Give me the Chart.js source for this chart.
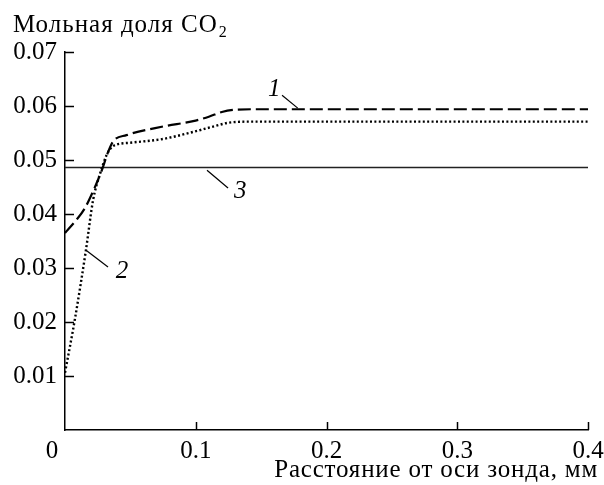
<!DOCTYPE html>
<html>
<head>
<meta charset="utf-8">
<script src="https://cdn.jsdelivr.net/npm/chart.js@4.4.1/dist/chart.umd.min.js"></script>
<style>
  html, body { margin: 0; padding: 0; background: #fff; }
  #wrap { width: 604px; height: 485px; }
</style>
</head>
<body>
<div id="wrap"><canvas id="chart" width="604" height="485"></canvas></div>
<script>
// Curve 1 (dashed)
const x1 = [0, 0.008, 0.015, 0.022, 0.028, 0.033, 0.037, 0.047, 0.075, 0.098, 0.11, 0.12, 0.13, 0.15, 0.25, 0.4];
const y1 = [0.0365, 0.0387, 0.041, 0.0445, 0.048, 0.0515, 0.0535, 0.0546, 0.0562, 0.0572, 0.058, 0.0589, 0.0593, 0.0594, 0.0594, 0.0594];

// Curve 2 (dotted)
const x2 = [0, 0.0077, 0.016, 0.0215, 0.027, 0.032, 0.037, 0.05, 0.075, 0.098, 0.115, 0.125, 0.14, 0.2, 0.4];
const y2 = [0.0106, 0.0207, 0.0333, 0.0426, 0.0476, 0.051, 0.0526, 0.0532, 0.0539, 0.0552, 0.0563, 0.0569, 0.0571, 0.0571, 0.0571];

// Curve 3 (solid, constant)
const x3 = [0, 0.4];
const y3 = [0.0486, 0.0486];

// Axis ticks
const xTicks = [0, 0.1, 0.2, 0.3, 0.4];
const yTicks = [0.01, 0.02, 0.03, 0.04, 0.05, 0.06, 0.07];

// Curve labels: text position and leader line ends, in data units
const curveLabels = [
    { text: '1', x: 0.160, y: 0.0630, from: [0.166, 0.0620], to: [0.178, 0.0596] },
    { text: '2', x: 0.0436, y: 0.0293, from: [0.0161, 0.0333], to: [0.0329, 0.0302] },
    { text: '3', x: 0.134, y: 0.0441, from: [0.1086, 0.0481], to: [0.1247, 0.0448] }
];

const yTitle = 'Мольная доля CO';
const yTitleSub = '2';
const xTitle = 'Расстояние от оси зонда, мм';

const SERIF = '"Liberation Serif", "Times New Roman", serif';

const toPoints = (xs, ys) => xs.map((x, i) => ({ x: x, y: ys[i] }));

// Draws inward tick marks, titles and curve labels
const decorPlugin = {
    id: 'decor',
    afterDraw(chart) {
        const ctx = chart.ctx;
        const xs = chart.scales.x;
        const ys = chart.scales.y;
        ctx.save();

        // inward ticks
        ctx.strokeStyle = '#000';
        ctx.lineWidth = 1.5;
        yTicks.forEach(v => {
            const py = Math.round(ys.getPixelForValue(v)) + 0.5;
            ctx.beginPath();
            ctx.moveTo(xs.left, py);
            ctx.lineTo(xs.left + 9, py);
            ctx.stroke();
        });
        xTicks.slice(1).forEach(v => {
            const px = Math.round(xs.getPixelForValue(v)) + 0.5;
            ctx.beginPath();
            ctx.moveTo(px, ys.bottom);
            ctx.lineTo(px, ys.bottom - 8);
            ctx.stroke();
        });

        // x label "0" sits left of the axis
        ctx.fillStyle = '#000';
        ctx.font = '25px ' + SERIF;
        ctx.textAlign = 'center';
        ctx.textBaseline = 'middle';
        ctx.fillText('0', xs.getPixelForValue(0) - 13, 451);

        // y title with subscript
        ctx.textAlign = 'left';
        ctx.textBaseline = 'alphabetic';
        ctx.letterSpacing = '1px';
        ctx.fillText(yTitle, 13, 32);
        const w = ctx.measureText(yTitle).width;
        ctx.letterSpacing = '0px';
        ctx.font = '16px ' + SERIF;
        ctx.fillText(yTitleSub, 13 + w + 1, 37);

        // x title, right aligned
        ctx.font = '25px ' + SERIF;
        ctx.textAlign = 'right';
        ctx.letterSpacing = '0.8px';
        ctx.fillText(xTitle, 598, 477);
        ctx.letterSpacing = '0px';

        // curve labels with leader lines
        ctx.lineWidth = 1.2;
        ctx.font = 'italic 25px ' + SERIF;
        ctx.textAlign = 'center';
        ctx.textBaseline = 'middle';
        curveLabels.forEach(l => {
            ctx.beginPath();
            ctx.moveTo(xs.getPixelForValue(l.from[0]), ys.getPixelForValue(l.from[1]));
            ctx.lineTo(xs.getPixelForValue(l.to[0]), ys.getPixelForValue(l.to[1]));
            ctx.stroke();
            ctx.fillText(l.text, xs.getPixelForValue(l.x), ys.getPixelForValue(l.y));
        });

        ctx.restore();
    }
};

const ctx = document.getElementById('chart').getContext('2d');
new Chart(ctx, {
    type: 'line',
    data: {
        datasets: [
            {
                label: '1',
                data: toPoints(x1, y1),
                borderColor: '#000',
                borderWidth: 2.2,
                borderDash: [13, 5],
                cubicInterpolationMode: 'monotone',
                pointRadius: 0,
                fill: false
            },
            {
                label: '2',
                data: toPoints(x2, y2),
                borderColor: '#000',
                borderWidth: 2.4,
                borderDash: [2, 2.4],
                cubicInterpolationMode: 'monotone',
                pointRadius: 0,
                fill: false
            },
            {
                label: '3',
                data: toPoints(x3, y3),
                borderColor: '#222',
                borderWidth: 1.5,
                pointRadius: 0,
                fill: false
            }
        ]
    },
    options: {
        responsive: false,
        animation: false,
        layout: {
            padding: { top: 52, right: 16, left: 0, bottom: 0 }
        },
        plugins: {
            legend: { display: false },
            tooltip: { enabled: false }
        },
        scales: {
            x: {
                type: 'linear',
                min: 0,
                max: 0.4,
                afterBuildTicks: (scale) => {
                    scale.ticks = xTicks.map(v => ({ value: v }));
                },
                ticks: {
                    color: '#000',
                    font: { family: SERIF, size: 25 },
                    padding: 6,
                    maxRotation: 0,
                    callback: (v) => v === 0 ? '' : v.toFixed(1)
                },
                grid: { display: true, drawOnChartArea: false, drawTicks: false },
                border: { display: true, color: '#000', width: 1.5 },
                afterFit: (scale) => {
                    scale.height = 55;
                    scale.paddingLeft = 0;
                    scale.paddingRight = 0;
                }
            },
            y: {
                type: 'linear',
                min: 0,
                max: 0.07,
                afterBuildTicks: (scale) => {
                    scale.ticks = [0].concat(yTicks).map(v => ({ value: v }));
                },
                ticks: {
                    color: '#000',
                    font: { family: SERIF, size: 25 },
                    padding: 8,
                    callback: (v) => v === 0 ? '' : v.toFixed(2)
                },
                grid: { display: true, drawOnChartArea: false, drawTicks: false },
                border: { display: true, color: '#000', width: 1.5 },
                afterFit: (scale) => {
                    scale.width = 65;
                    scale.paddingTop = 0;
                    scale.paddingBottom = 0;
                }
            }
        }
    },
    plugins: [decorPlugin]
});
</script>
</body>
</html>
